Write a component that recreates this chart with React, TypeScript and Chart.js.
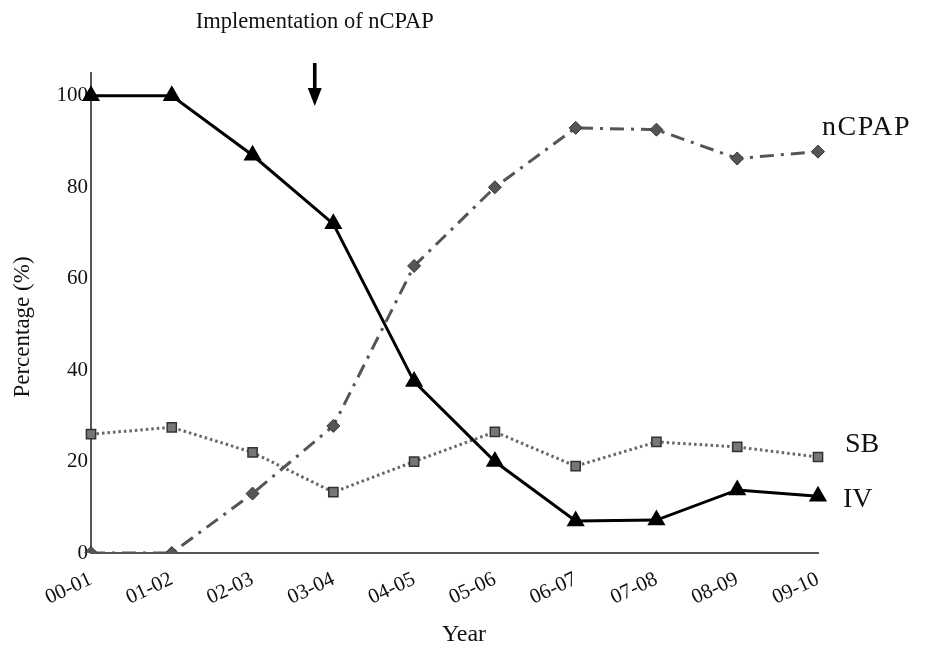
import React, { useEffect, useRef } from "react";
import { Chart, registerables } from "chart.js";

Chart.register(...registerables);

const years = ["00-01", "01-02", "02-03", "03-04", "04-05", "05-06", "06-07", "07-08", "08-09", "09-10"];
const ivValues = [100, 100, 87, 72, 37.5, 20, 7, 7.2, 13.8, 12.4];
const ncpapValues = [0, 0, 13, 27.8, 62.8, 80, 93, 92.6, 86.3, 87.8];
const sbValues = [26, 27.5, 22, 13.3, 20, 26.5, 19, 24.3, 23.2, 21];
const yTicks = [0, 20, 40, 60, 80, 100];
const seriesNames = ["IV", "nCPAP", "SB"];
const annotationText = "Implementation of nCPAP";
const annotationAt = 2.77;

const SERIF = "'Liberation Serif', 'DejaVu Serif', serif";

const textPlugin = {
  id: "texts",
  afterDraw(chart: any) {
    const { ctx } = chart;
    const xs = chart.scales.x;
    ctx.save();
    ctx.fillStyle = "#111";
    // y title
    ctx.font = `23px ${SERIF}`;
    ctx.textAlign = "center";
    ctx.textBaseline = "middle";
    ctx.save();
    ctx.translate(23, 327);
    ctx.rotate(-Math.PI / 2);
    ctx.fillText("Percentage (%)", 0, 0);
    ctx.restore();
    // x title
    ctx.font = `24px ${SERIF}`;
    ctx.textBaseline = "alphabetic";
    ctx.fillText("Year", 464, 641);
    // annotation
    const ax = xs.getPixelForValue(annotationAt);
    ctx.font = `22.5px ${SERIF}`;
    ctx.fillText(annotationText, ax, 28);
    ctx.fillStyle = "#000";
    ctx.fillRect(ax - 1.8, 63, 3.6, 28);
    ctx.beginPath();
    ctx.moveTo(ax - 7, 88);
    ctx.lineTo(ax + 7, 88);
    ctx.lineTo(ax, 106);
    ctx.closePath();
    ctx.fill();
    // end labels
    ctx.fillStyle = "#111";
    ctx.font = `28px ${SERIF}`;
    ctx.textAlign = "left";
    const offs: Record<string, [number, number, number]> = { IV: [25, 11, 0], nCPAP: [4, -17, 1.5], SB: [27, -5, 0] };
    chart.data.datasets.forEach((ds: any, i: number) => {
      const meta = chart.getDatasetMeta(i);
      const pt = meta.data[meta.data.length - 1];
      const o = offs[ds.label];
      (ctx as any).letterSpacing = `${o[2]}px`;
      ctx.fillText(ds.label, pt.x + o[0], pt.y + o[1]);
    });
    ctx.restore();
  },
};

export default function App() {
  const ref = useRef<HTMLCanvasElement>(null);
  useEffect(() => {
    const chart = new Chart(ref.current!, {
      type: "line",
      data: {
        labels: years,
        datasets: [
          {
            label: seriesNames[0],
            data: ivValues,
            borderColor: "#000",
            borderWidth: 3,
            pointStyle: "triangle",
            pointRadius: 7.5,
            pointBackgroundColor: "#000",
            pointBorderColor: "#000",
            tension: 0,
          },
          {
            label: seriesNames[1],
            data: ncpapValues,
            borderColor: "#555",
            borderWidth: 3,
            borderDash: [14, 7, 3, 7],
            pointStyle: "rectRot",
            pointRadius: 6.5,
            pointBackgroundColor: "#555",
            pointBorderColor: "#333",
            pointBorderWidth: 1,
            tension: 0,
          },
          {
            label: seriesNames[2],
            data: sbValues,
            borderColor: "#666",
            borderWidth: 3,
            borderDash: [2.5, 3],
            pointStyle: "rect",
            pointRadius: 6.5,
            pointBackgroundColor: "#777",
            pointBorderColor: "#333",
            pointBorderWidth: 1.5,
            tension: 0,
          },
        ],
      },
      options: {
        animation: false,
        responsive: false,
        devicePixelRatio: 1,
        layout: { padding: { top: 73, right: 111, left: 0, bottom: 0 } },
        plugins: { legend: { display: false }, tooltip: { enabled: false } },
        scales: {
          x: {
            offset: false,
            grid: { display: false, drawTicks: false },
            border: { display: true, color: "#555", width: 2 },
            ticks: {
              color: "#111",
              font: { family: SERIF, size: 21 },
              maxRotation: 25,
              minRotation: 25,
              padding: 14,
              autoSkip: false,
            },
            afterFit: (s: any) => {
              s.height = 96;
            },
          },
          y: {
            min: 0,
            max: 105,
            grid: { display: false, drawTicks: false },
            border: { display: true, color: "#555", width: 2 },
            ticks: {
              color: "#111",
              font: { family: SERIF, size: 21 },
              padding: 3,
              stepSize: 20,
            },
            afterBuildTicks: (s: any) => {
              s.ticks = yTicks.map((v) => ({ value: v }));
            },
            afterFit: (s: any) => {
              s.width = 91;
            },
          },
        },
      },
      plugins: [textPlugin],
    });
    return () => chart.destroy();
  }, []);
  return (
    <div style={{ position: "absolute", left: 0, top: 0, width: 929, height: 649, background: "#fff" }}>
      <canvas ref={ref} width={929} height={649} />
    </div>
  );
}
